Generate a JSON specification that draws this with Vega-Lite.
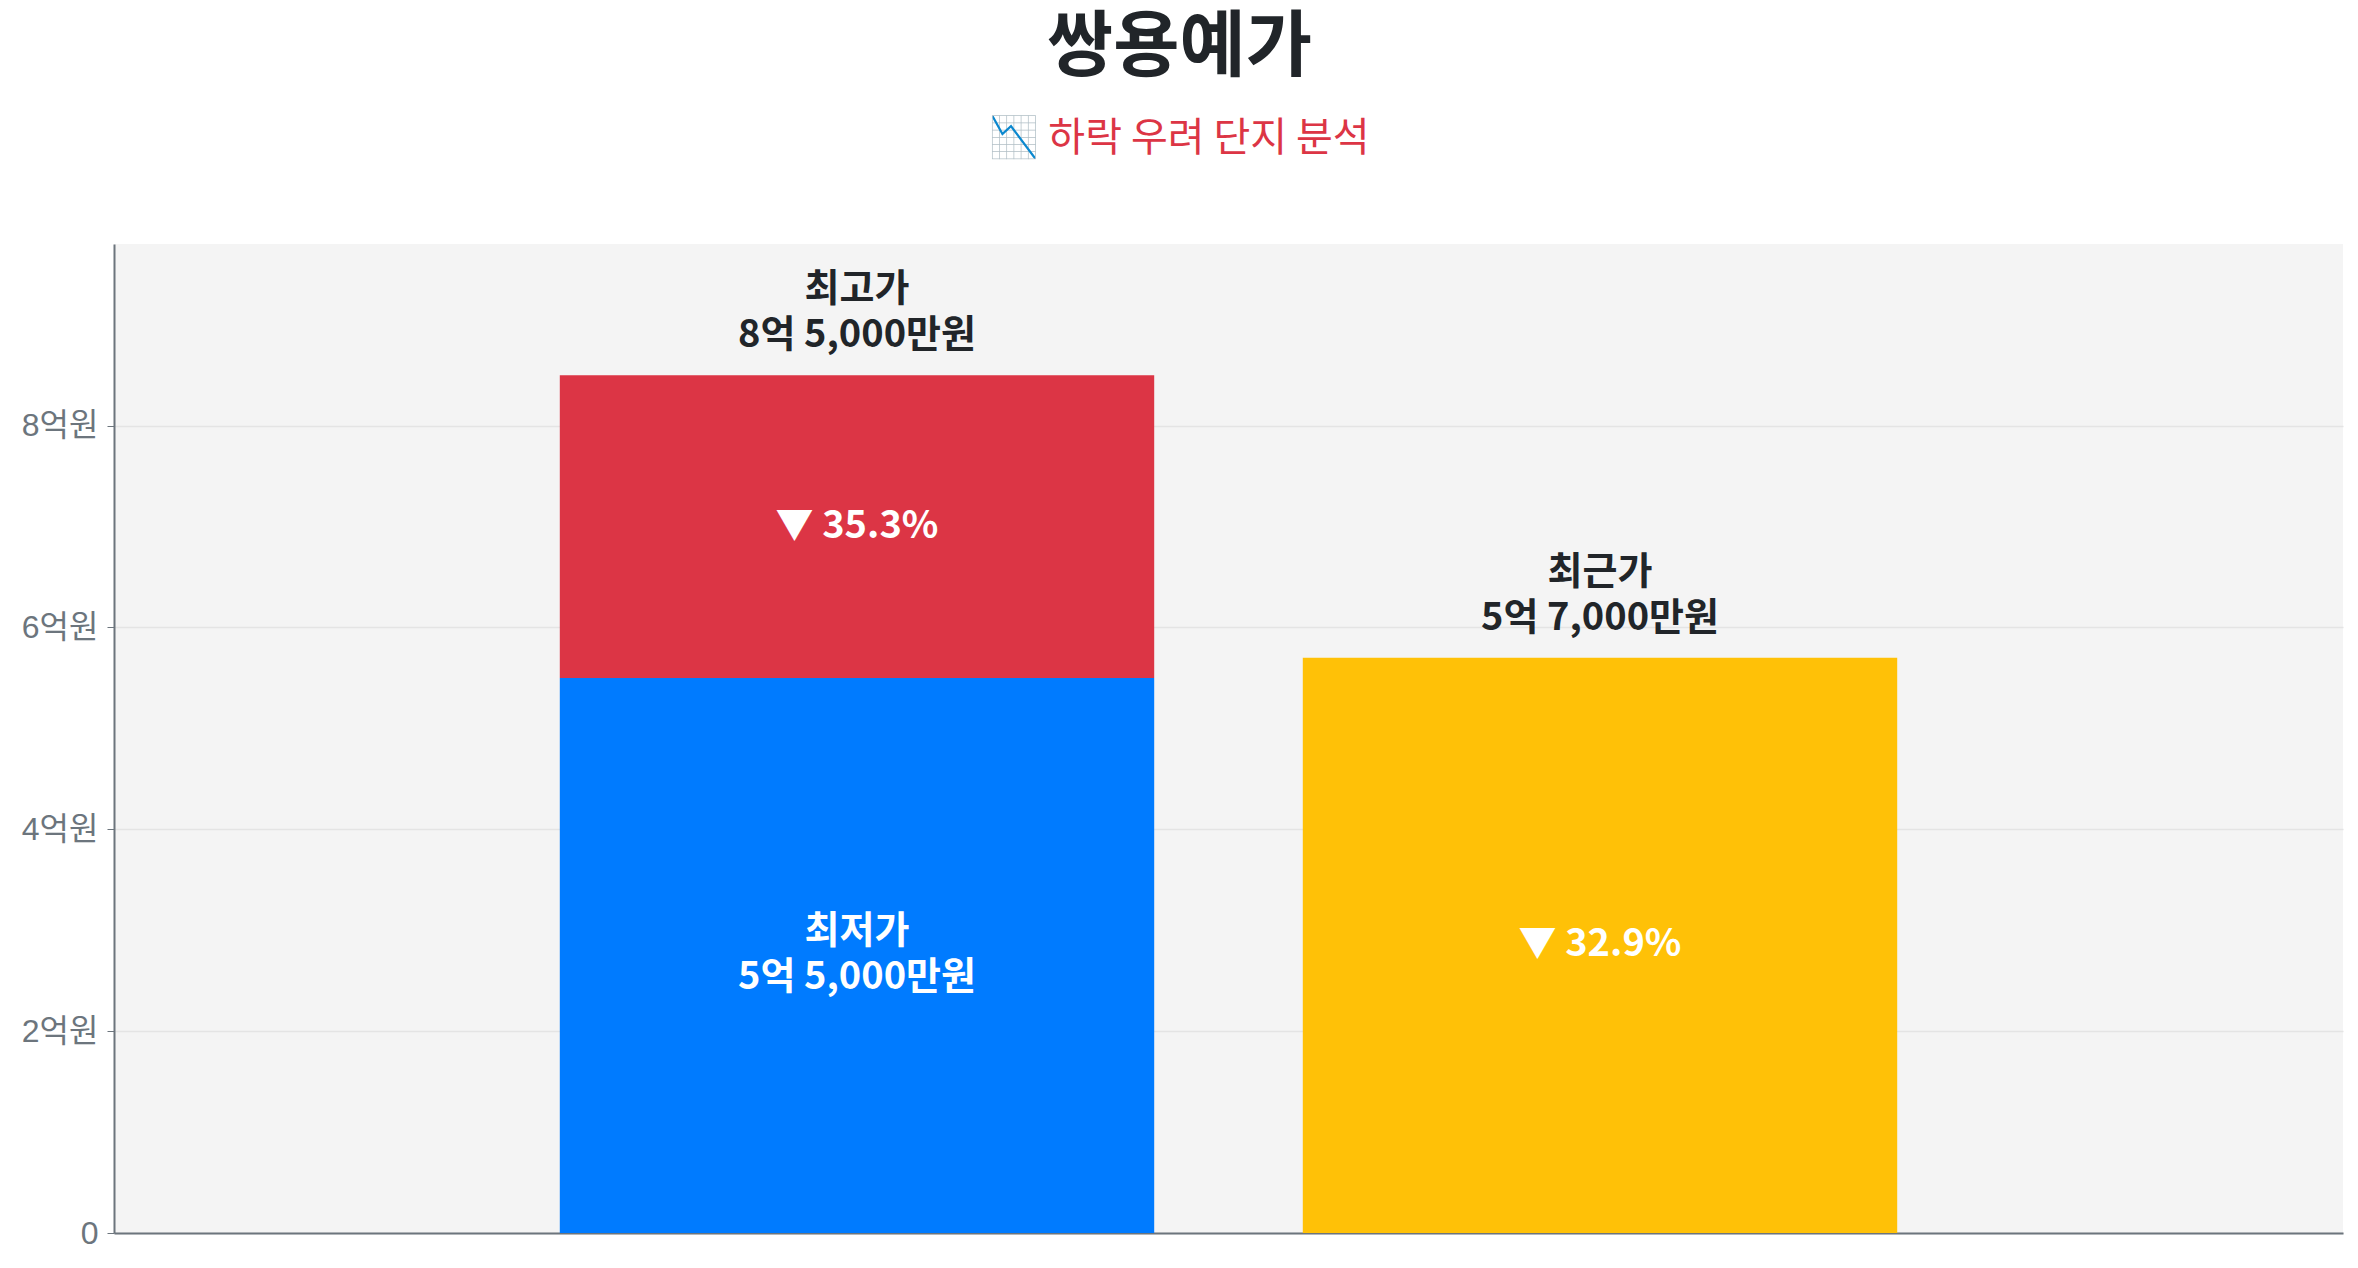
{
  "$schema": "https://vega.github.io/schema/vega-lite/v6.json",
  "width": 2229,
  "height": 989,
  "autosize": {"type": "none"},
  "padding": {"left": 114, "top": 244, "right": 15, "bottom": 35},
  "background": "#ffffff",
  "config": {"view": {"fill": "#f4f4f4", "stroke": null}, "font": "Noto Sans CJK KR"},
  "title": {
    "text": "쌍용예가",
    "subtitle": "📉 하락 우려 단지 분석",
    "anchor": "middle",
    "dx": -49,
    "offset": 84,
    "fontSize": 72,
    "fontWeight": "bold",
    "color": "#212529",
    "font": "Noto Sans CJK KR",
    "subtitleFont": "Noto Sans CJK KR",
    "subtitleFontSize": 40,
    "subtitleColor": "#dc3545",
    "subtitlePadding": 34
  },
  "data": {
    "values": [
      {"group": "A", "seg": "최저가", "start": 0, "end": 5.5, "inner": ["최저가", "5억 5,000만원"], "top": null},
      {"group": "A", "seg": "하락폭", "start": 5.5, "end": 8.5, "inner": "▼ 35.3%", "top": ["최고가", "8억 5,000만원"]},
      {"group": "B", "seg": "최근가", "start": 0, "end": 5.7, "inner": "▼ 32.9%", "top": ["최근가", "5억 7,000만원"]}
    ]
  },
  "encoding": {
    "x": {
      "field": "group",
      "type": "nominal",
      "sort": null,
      "scale": {"paddingInner": 0.2, "paddingOuter": 0.6},
      "axis": {"labels": false, "ticks": false, "title": null, "grid": false, "domainColor": "#6c757d", "domainWidth": 2}
    }
  },
  "layer": [
    {
      "mark": {"type": "bar"},
      "encoding": {
        "y": {
          "field": "start",
          "type": "quantitative",
          "scale": {"domain": [0, 9.8], "nice": false, "zero": true},
          "axis": {
            "title": null,
            "values": [0, 2, 4, 6, 8],
            "labelExpr": "datum.value == 0 ? '0' : datum.value + '억원'",
            "labelFont": "Liberation Sans, Noto Sans CJK KR",
            "labelFontSize": 32,
            "labelColor": "#6c757d",
            "labelPadding": 9,
            "tickSize": 7,
            "tickColor": "#6c757d",
            "domainColor": "#6c757d",
            "domainWidth": 2,
            "gridColor": "#e4e4e4",
            "gridWidth": 1.5
          }
        },
        "y2": {"field": "end"},
        "color": {
          "field": "seg",
          "type": "nominal",
          "scale": {"domain": ["최저가", "하락폭", "최근가"], "range": ["#007bff", "#dc3545", "#ffc107"]},
          "legend": null
        }
      }
    },
    {
      "transform": [
        {"filter": "datum.seg != '최저가'"},
        {"calculate": "(datum.start + datum.end) / 2", "as": "mid"}
      ],
      "mark": {"type": "text", "color": "#ffffff", "fontSize": 38, "fontWeight": "bold", "lineHeight": 46, "baseline": "middle"},
      "encoding": {
        "y": {"field": "mid", "type": "quantitative"},
        "text": {"field": "inner"}
      }
    },
    {
      "transform": [
        {"filter": "datum.seg == '최저가'"},
        {"calculate": "(datum.start + datum.end) / 2", "as": "mid"}
      ],
      "mark": {"type": "text", "color": "#ffffff", "fontSize": 38, "fontWeight": "bold", "lineHeight": 46, "baseline": "middle", "dy": -23},
      "encoding": {
        "y": {"field": "mid", "type": "quantitative"},
        "text": {"field": "inner"}
      }
    },
    {
      "transform": [{"filter": "datum.top != null"}],
      "mark": {"type": "text", "color": "#212529", "fontSize": 38, "fontWeight": "bold", "lineHeight": 46, "baseline": "bottom", "dy": -66},
      "encoding": {
        "y": {"field": "end", "type": "quantitative"},
        "text": {"field": "top"}
      }
    }
  ]
}
